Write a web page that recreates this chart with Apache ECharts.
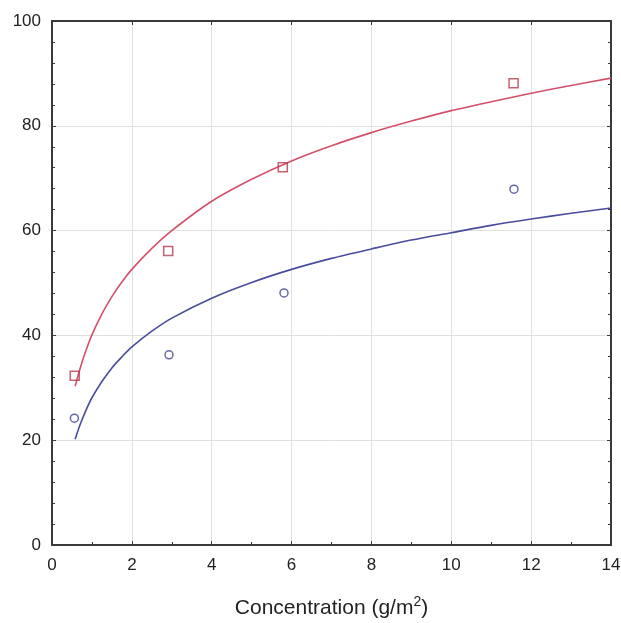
<!DOCTYPE html>
<html><head><meta charset="utf-8">
<script src="https://cdn.jsdelivr.net/npm/echarts@6/dist/echarts.min.js"></script>
<style>html,body{margin:0;padding:0;background:#fff}#c{width:621px;height:623px}</style>
</head><body><div id="c"></div>
<script>
// Measured points
const redPointsX = [0.57, 2.91, 5.78, 11.56];
const redPointsY = [32.3, 56.1, 72.1, 88.1];
const bluePointsX = [0.56, 2.93, 5.81, 11.57];
const bluePointsY = [24.2, 36.3, 48.1, 67.9];
// Fitted curves
const curveX = [0.58, 0.7, 0.85, 1, 1.25, 1.5, 1.75, 2, 2.5, 3, 4, 5, 6, 7, 8, 9, 10, 11, 12, 13, 14];
const redCurveY = [30.3, 33.6, 37.1, 40.1, 44.1, 47.4, 50.2, 52.6, 56.6, 60.0, 65.6, 69.8, 73.3, 76.2, 78.7, 80.9, 82.9, 84.6, 86.2, 87.7, 89.1];
const blueCurveY = [20.2, 22.9, 25.7, 28.1, 31.2, 33.8, 35.9, 37.8, 40.8, 43.3, 47.1, 50.1, 52.6, 54.7, 56.5, 58.2, 59.6, 61.0, 62.2, 63.3, 64.3];
const xTitle = 'Concentration (g/m{sup|2})';

const zip = (a, b) => a.map((v, i) => [v, b[i]]);
const axisLine = {show: true, onZero: false, lineStyle: {color: '#3a3a3a', width: 2}};
const chart = echarts.init(document.getElementById('c'), null, {renderer: 'canvas'});
chart.setOption({
  animation: false,
  backgroundColor: '#fff',
  grid: {left: 52, right: 10, top: 21, bottom: 78, outerBoundsMode: 'none', containLabel: false},
  xAxis: [{
    type: 'value', min: 0, max: 14, interval: 2, position: 'bottom',
    axisLine: axisLine,
    axisTick: {show: true, inside: true, length: 4, lineStyle: {color: '#3a3a3a'}},
    minorTick: {show: true, splitNumber: 2, length: 3, lineStyle: {color: '#3a3a3a'}},
    axisLabel: {color: '#222', fontSize: 17, fontFamily: 'Liberation Sans', margin: 12},
    splitLine: {show: true, lineStyle: {color: '#e0e0e0', width: 1}},
    name: xTitle, nameLocation: 'middle', nameGap: 50,
    nameTextStyle: {color: '#222', fontSize: 21, fontFamily: 'Liberation Sans',
      rich: {sup: {fontSize: 14, verticalAlign: 'top', padding: [0, 0, 12, 0], fontFamily: 'Liberation Sans', color: '#222'}}}
  }, {
    type: 'value', min: 0, max: 14, interval: 2, position: 'top',
    axisLine: axisLine,
    axisTick: {show: true, inside: true, length: 4, lineStyle: {color: '#3a3a3a'}},
    axisLabel: {show: false}, splitLine: {show: false}
  }],
  yAxis: [{
    type: 'value', min: 0, max: 100, interval: 20, position: 'left',
    axisLine: axisLine,
    axisTick: {show: true, inside: true, length: 4, lineStyle: {color: '#3a3a3a'}},
    minorTick: {show: true, splitNumber: 5, length: 3, lineStyle: {color: '#3a3a3a'}},
    axisLabel: {color: '#222', fontSize: 17, fontFamily: 'Liberation Sans', margin: 11},
    splitLine: {show: true, lineStyle: {color: '#e0e0e0', width: 1}}
  }, {
    type: 'value', min: 0, max: 100, interval: 20, position: 'right',
    axisLine: axisLine,
    axisTick: {show: true, inside: true, length: 4, lineStyle: {color: '#3a3a3a'}},
    minorTick: {show: true, splitNumber: 5, length: 3, lineStyle: {color: '#3a3a3a'}},
    axisLabel: {show: false}, splitLine: {show: false}
  }],
  series: [
    {type: 'line', data: zip(curveX, redCurveY), smooth: 0.3, showSymbol: false,
     lineStyle: {color: '#d4506a', width: 1.6}, z: 3},
    {type: 'line', data: zip(curveX, blueCurveY), smooth: 0.3, showSymbol: false,
     lineStyle: {color: '#4a4c9c', width: 1.6}, z: 3},
    {type: 'scatter', data: zip(redPointsX, redPointsY), symbol: 'rect', symbolSize: 9,
     itemStyle: {color: 'rgba(255,255,255,0)', borderColor: '#b83a4c', borderWidth: 1.5}, z: 4},
    {type: 'scatter', data: zip(bluePointsX, bluePointsY), symbol: 'circle', symbolSize: 8,
     itemStyle: {color: 'rgba(255,255,255,0)', borderColor: '#3d428e', borderWidth: 1.5}, z: 4}
  ]
});
</script></body></html>
